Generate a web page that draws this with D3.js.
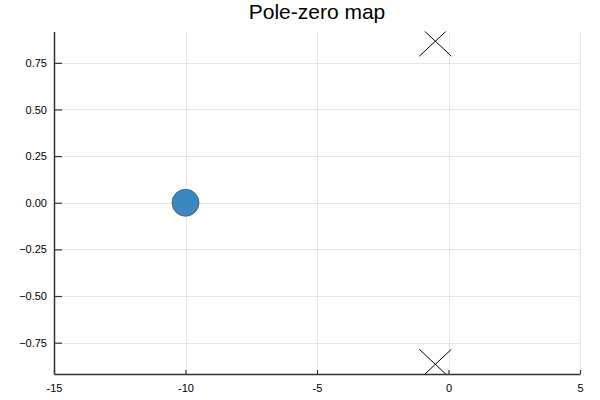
<!DOCTYPE html>
<html><head><meta charset="utf-8">
<script src="https://cdn.jsdelivr.net/npm/d3@7"></script>
<style>body{margin:0;background:#fff}svg{display:block}</style>
</head><body>
<script>
const title = "Pole-zero map";
const zerosRe = [-10];
const zerosIm = [0];
const polesRe = [-0.5, -0.5];
const polesIm = [0.866, -0.866];
const xTicks = [-15, -10, -5, 0, 5];
const yTicks = [-0.75, -0.5, -0.25, 0, 0.25, 0.5, 0.75];
const xDomain = [-15, 5];
const yDomain = [-0.918, 0.918];

const W = 600, H = 400;
const m = {left: 54, right: 20, top: 31.5, bottom: 26};
const svg = d3.select("body").append("svg").attr("width", W).attr("height", H);
const x = d3.scaleLinear().domain(xDomain).range([m.left, W - m.right]);
const y = d3.scaleLinear().domain(yDomain).range([H - m.bottom, m.top]);

svg.append("defs").append("clipPath").attr("id", "clip")
  .append("rect").attr("x", m.left).attr("y", m.top)
  .attr("width", W - m.left - m.right).attr("height", H - m.top - m.bottom);

// grid
const grid = svg.append("g").attr("stroke", "#000").attr("stroke-opacity", 0.09).attr("stroke-width", 1);
grid.selectAll(".gx").data(xTicks).join("line")
  .attr("x1", d => Math.round(x(d)) + 0.5).attr("x2", d => Math.round(x(d)) + 0.5)
  .attr("y1", m.top).attr("y2", H - m.bottom);
grid.selectAll(".gy").data(yTicks).join("line")
  .attr("y1", d => Math.round(y(d)) + 0.5).attr("y2", d => Math.round(y(d)) + 0.5)
  .attr("x1", m.left).attr("x2", W - m.right);

// axes
const xAxis = d3.axisBottom(x).tickValues(xTicks).tickSize(-4).tickSizeOuter(0).tickPadding(8)
  .tickFormat(d => String(d));
const yAxis = d3.axisLeft(y).tickValues(yTicks).tickSize(-8).tickSizeOuter(0).tickPadding(7)
  .tickFormat(d3.format(".2f"));
const gx = svg.append("g").attr("transform", `translate(0,${H - m.bottom})`).call(xAxis);
const gy = svg.append("g").attr("transform", `translate(${m.left},0)`).call(yAxis);
[gx, gy].forEach(g => {
  g.select(".domain").attr("stroke", "#333").attr("stroke-width", 1.5);
  g.selectAll(".tick line").attr("stroke", "#333").attr("stroke-width", 1.2);
  g.selectAll(".tick text").attr("font-family", "Liberation Sans, Arial, sans-serif")
    .attr("font-size", 11).attr("fill", "#000");
});
gx.selectAll(".tick text").attr("dy", "0.9em");

// marks
const marks = svg.append("g").attr("clip-path", "url(#clip)");
marks.selectAll("circle").data(zerosRe).join("circle")
  .attr("cx", d => x(d)).attr("cy", (d, i) => y(zerosIm[i])).attr("r", 13.5)
  .attr("fill", "#3a87c2").attr("stroke", "#555").attr("stroke-opacity", 0.8).attr("stroke-width", 1);
const s = 16, t = 15;
marks.selectAll("path.pole").data(polesRe).join("path").attr("class", "pole")
  .attr("d", (d, i) => {
    const cx = x(d), cy = y(polesIm[i]);
    return `M${cx - s},${cy - t}L${cx + s},${cy + t}M${cx - s},${cy + t}L${cx + s},${cy - t}`;
  })
  .attr("stroke", "#000").attr("stroke-width", 1).attr("fill", "none");

svg.append("text").attr("x", (m.left + W - m.right) / 2).attr("y", 18.5)
  .attr("text-anchor", "middle").attr("font-family", "Liberation Sans, Arial, sans-serif")
  .attr("font-size", 21).attr("fill", "#000").text(title);
</script>
</body></html>
